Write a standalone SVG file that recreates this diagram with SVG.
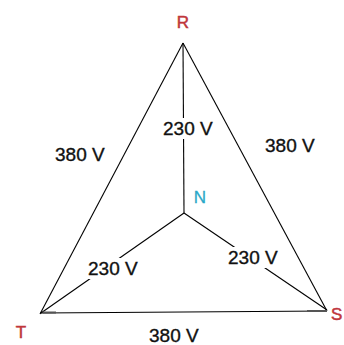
<svg xmlns="http://www.w3.org/2000/svg" width="344" height="345" viewBox="0 0 344 345">
<style>
.ln{stroke:#000;stroke-width:1.1;fill:none}
.lbl{font-family:"Liberation Sans",Arial,sans-serif;font-size:19px;fill:#111;stroke:#111;stroke-width:0.35}
.ph{font-family:"Liberation Sans",Arial,sans-serif;font-size:17px;fill:#c0363c;stroke:#c0363c;stroke-width:0.5}
.bg{fill:#fff}
</style>
<rect width="344" height="345" fill="#fff"/>
<g id="connectors">
<line class="ln" x1="183" y1="43" x2="40" y2="314"/>
<line class="ln" x1="183" y1="43" x2="327" y2="311"/>
<line class="ln" x1="40" y1="313" x2="327" y2="311"/>
<line class="ln" x1="183" y1="43" x2="184" y2="213"/>
<line class="ln" x1="184" y1="213" x2="41" y2="313"/>
<line class="ln" x1="184" y1="213" x2="327" y2="310"/>
<line x1="43" y1="312.5" x2="56" y2="312.5" stroke="#555" stroke-width="2"/>
<line x1="307" y1="311" x2="327" y2="311" stroke="#555" stroke-width="2"/>
</g>
<g id="node-R"><text class="ph" x="183" y="28" text-anchor="middle">R</text></g>
<g id="node-T"><text class="ph" x="21" y="338" text-anchor="middle">T</text></g>
<g id="node-S"><text class="ph" x="331" y="320">S</text></g>
<g id="node-N"><text x="200" y="203" text-anchor="middle" style="font-family:'Liberation Sans',Arial,sans-serif;font-size:17px;fill:#2aa8c8;stroke:#2aa8c8;stroke-width:0.3">N</text></g>
<g id="label-RN"><rect class="bg" x="162" y="118" width="54" height="21"/><text class="lbl" x="163" y="135">230 V</text></g>
<g id="label-TN"><rect class="bg" x="86" y="258" width="54" height="21"/><text class="lbl" x="88" y="275">230 V</text></g>
<g id="label-SN"><rect class="bg" x="226" y="247" width="54" height="21"/><text class="lbl" x="228" y="264">230 V</text></g>
<g id="label-RT"><text class="lbl" x="55" y="161">380 V</text></g>
<g id="label-RS"><text class="lbl" x="265" y="152">380 V</text></g>
<g id="label-TS"><text class="lbl" x="149" y="342">380 V</text></g>
</svg>
